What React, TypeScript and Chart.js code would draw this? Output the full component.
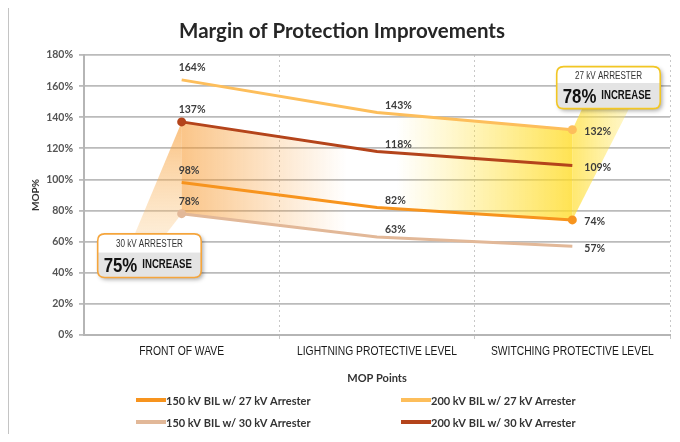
import React, { useEffect, useRef } from 'react';
import { Chart, registerables } from 'chart.js';

Chart.register(...registerables);

// ---------------- data ----------------
const categories = ['FRONT OF WAVE', 'LIGHTNING PROTECTIVE LEVEL', 'SWITCHING PROTECTIVE LEVEL'];
const seriesLabels = [
  '150 kV BIL w/ 27 kV Arrester',
  '200 kV BIL w/ 27 kV Arrester',
  '150 kV BIL w/ 30 kV Arrester',
  '200 kV BIL w/ 30 kV Arrester',
];
const bil150Arr27 = [98, 82, 74];
const bil200Arr27 = [164, 143, 132];
const bil150Arr30 = [78, 63, 57];
const bil200Arr30 = [137, 118, 109];
const yTickValues = [0, 20, 40, 60, 80, 100, 120, 140, 160, 180];
const yTickLabels = ['0%', '20%', '40%', '60%', '80%', '100%', '120%', '140%', '160%', '180%'];
const chartTitle = 'Margin of Protection Improvements';
const yTitle = 'MOP%';
const xTitle = 'MOP Points';
const callout30 = { title: '30 kV ARRESTER', pct: '75%', word: 'INCREASE' };
const callout27 = { title: '27 kV ARRESTER', pct: '78%', word: 'INCREASE' };

// ---------------- styles ----------------
const seriesColors = ['#F7941E', '#FDBE5B', '#E2B898', '#B4441B'];
const markerRadii = [
  [0, 0, 4.5],
  [0, 0, 4.5],
  [4.5, 0, 0],
  [4.5, 0, 0],
];
const SANS = 'Lato, "Open Sans", sans-serif';
const ARIAL = '"Liberation Sans", Arial, sans-serif';

function condText(ctx: any, text: string, x: number, y: number, font: string, sx: number, align: string, color: string) {
  ctx.save();
  ctx.font = font;
  ctx.fillStyle = color;
  ctx.textBaseline = 'middle';
  ctx.textAlign = align;
  ctx.translate(x, y);
  ctx.scale(sx, 1);
  ctx.fillText(text, 0, 0);
  ctx.restore();
}

function condWidth(ctx: any, text: string, font: string, sx: number) {
  ctx.save();
  ctx.font = font;
  const w = ctx.measureText(text).width * sx;
  ctx.restore();
  return w;
}

function rr(ctx: any, x: number, y: number, w: number, h: number, r: number) {
  ctx.beginPath();
  ctx.moveTo(x + r, y);
  ctx.lineTo(x + w - r, y);
  ctx.quadraticCurveTo(x + w, y, x + w, y + r);
  ctx.lineTo(x + w, y + h - r);
  ctx.quadraticCurveTo(x + w, y + h, x + w - r, y + h);
  ctx.lineTo(x + r, y + h);
  ctx.quadraticCurveTo(x, y + h, x, y + h - r);
  ctx.lineTo(x, y + r);
  ctx.quadraticCurveTo(x, y, x + r, y);
  ctx.closePath();
}

function drawCallout(ctx: any, x0: number, y0: number, x1: number, y1: number, yDiv: number, border: string, c: any) {
  const w = x1 - x0;
  const h = y1 - y0;
  ctx.save();
  ctx.shadowColor = 'rgba(0,0,0,0.35)';
  ctx.shadowBlur = 4;
  ctx.shadowOffsetX = 2;
  ctx.shadowOffsetY = 2;
  rr(ctx, x0, y0, w, h, 7);
  ctx.fillStyle = '#ffffff';
  ctx.fill();
  ctx.restore();
  ctx.save();
  rr(ctx, x0, y0, w, h, 7);
  ctx.clip();
  ctx.fillStyle = '#E4E4E4';
  ctx.fillRect(x0, yDiv, w, y1 - yDiv);
  ctx.restore();
  ctx.save();
  rr(ctx, x0, y0, w, h, 7);
  ctx.lineWidth = 1.6;
  ctx.strokeStyle = border;
  ctx.stroke();
  ctx.restore();
  condText(ctx, c.title, (x0 + x1) / 2, (y0 + yDiv) / 2 + 1, `10px ${ARIAL}`, 0.81, 'center', '#333333');
  const pf = `bold 21px ${ARIAL}`;
  const px = x0 + 6;
  const pw = condWidth(ctx, c.pct, pf, 0.8);
  const ym = (yDiv + y1) / 2 + 1;
  condText(ctx, c.pct, px, ym, pf, 0.8, 'left', '#111111');
  condText(ctx, c.word, px + pw + 5, ym - 1, `bold 12px ${ARIAL}`, 0.8, 'left', '#111111');
}

const mopPlugin = {
  id: 'mopPlugin',
  beforeDraw(chart: any) {
    const ctx = chart.ctx;
    ctx.save();
    ctx.strokeStyle = '#C4C4C4';
    ctx.lineWidth = 2;
    ctx.beginPath();
    ctx.moveTo(1, chart.height);
    ctx.lineTo(1, 1);
    ctx.lineTo(chart.width, 1);
    ctx.stroke();
    ctx.restore();
    ctx.save();
    ctx.font = `bold 20.5px ${SANS}`;
    ctx.fillStyle = '#262626';
    ctx.textAlign = 'center';
    ctx.textBaseline = 'middle';
    ctx.fillText(chartTitle, 335, 26);
    ctx.restore();
  },
  beforeDatasetsDraw(chart: any) {
    const ctx = chart.ctx;
    const xs = chart.scales.x;
    const ys = chart.scales.y;
    const d0 = chart.getDatasetMeta(0).data;
    const d1 = chart.getDatasetMeta(1).data;
    const d2 = chart.getDatasetMeta(2).data;
    const d3 = chart.getDatasetMeta(3).data;
    ctx.save();
    // left band between 200/30 and 150/30
    let g = ctx.createLinearGradient(d3[0].x, 0, d3[0].x + 165, 0);
    g.addColorStop(0, 'rgba(247,150,40,0.55)');
    g.addColorStop(1, 'rgba(247,150,40,0)');
    ctx.beginPath();
    ctx.moveTo(d3[0].x, d3[0].y);
    ctx.lineTo(d3[1].x, d3[1].y);
    ctx.lineTo(d2[1].x, d2[1].y);
    ctx.lineTo(d2[0].x, d2[0].y);
    ctx.closePath();
    ctx.fillStyle = g;
    ctx.fill();
    // left wedge toward callout
    const wy = ys.getPixelForValue(65);
    g = ctx.createLinearGradient(0, d3[0].y, 0, wy);
    g.addColorStop(0, 'rgba(247,150,40,0.6)');
    g.addColorStop(1, 'rgba(250,195,120,0.3)');
    ctx.beginPath();
    ctx.moveTo(d3[0].x, d3[0].y);
    ctx.lineTo(d2[0].x, d2[0].y);
    ctx.lineTo(xs.getPixelForValue(-0.08), wy);
    ctx.lineTo(xs.getPixelForValue(-0.24), wy);
    ctx.closePath();
    ctx.fillStyle = g;
    ctx.fill();
    // right band between 200/27 and 150/27
    g = ctx.createLinearGradient(d1[1].x + 20, 0, d1[2].x, 0);
    g.addColorStop(0, 'rgba(255,225,60,0)');
    g.addColorStop(1, 'rgba(255,220,40,0.8)');
    ctx.beginPath();
    ctx.moveTo(d1[1].x, d1[1].y);
    ctx.lineTo(d1[2].x, d1[2].y);
    ctx.lineTo(d0[2].x, d0[2].y);
    ctx.lineTo(d0[1].x, d0[1].y);
    ctx.closePath();
    ctx.fillStyle = g;
    ctx.fill();
    // right wedge toward callout
    const ry = ys.getPixelForValue(145.5);
    g = ctx.createLinearGradient(d1[2].x, 0, xs.getPixelForValue(2.3), 0);
    g.addColorStop(0, 'rgba(255,222,50,0.7)');
    g.addColorStop(1, 'rgba(255,230,90,0.3)');
    ctx.beginPath();
    ctx.moveTo(d1[2].x, d1[2].y);
    ctx.lineTo(xs.getPixelForValue(2.05), ry);
    ctx.lineTo(xs.getPixelForValue(2.29), ry);
    ctx.lineTo(d0[2].x, d0[2].y);
    ctx.closePath();
    ctx.fillStyle = g;
    ctx.fill();
    ctx.restore();
  },
  afterDatasetsDraw(chart: any) {
    const ctx = chart.ctx;
    const xs = chart.scales.x;
    const ys = chart.scales.y;
    // data labels
    const offs = [
      [-3, -12],
      [8, -7],
      [12, 2],
    ];
    ctx.save();
    ctx.font = `bold 10.5px ${SANS}`;
    ctx.fillStyle = '#3c3c3c';
    ctx.textAlign = 'left';
    ctx.textBaseline = 'middle';
    chart.data.datasets.forEach((ds: any, di: number) => {
      const meta = chart.getDatasetMeta(di);
      meta.data.forEach((pt: any, i: number) => {
        ctx.fillText(ds.data[i] + '%', pt.x + offs[i][0], pt.y + offs[i][1]);
      });
    });
    ctx.restore();
    // x category labels (condensed)
    categories.forEach((lab, i) => {
      condText(ctx, lab, xs.getPixelForValue(i), xs.top + 17, `12px ${ARIAL}`, 0.86, 'center', '#1a1a1a');
    });
    // callouts
    drawCallout(
      ctx,
      xs.getPixelForValue(-0.43),
      ys.getPixelForValue(65),
      xs.getPixelForValue(0.1),
      ys.getPixelForValue(37),
      ys.getPixelForValue(53),
      '#F5A53C',
      callout30
    );
    drawCallout(
      ctx,
      xs.getPixelForValue(1.92),
      ys.getPixelForValue(172.5),
      xs.getPixelForValue(2.45),
      ys.getPixelForValue(145.5),
      ys.getPixelForValue(162),
      '#F2C623',
      callout27
    );
  },
  afterDraw(chart: any) {
    const ctx = chart.ctx;
    // legend: two columns, two rows
    const cols = [129, 394];
    const rows = [395, 417];
    ctx.save();
    ctx.font = `bold 11px ${SANS}`;
    ctx.textBaseline = 'middle';
    ctx.textAlign = 'left';
    chart.data.datasets.forEach((ds: any, i: number) => {
      const x = cols[i % 2];
      const y = rows[Math.floor(i / 2)];
      ctx.fillStyle = ds.borderColor;
      ctx.fillRect(x, y - 2, 30, 4);
      ctx.fillStyle = '#333333';
      ctx.fillText(ds.label, x + 30, y + 1);
    });
    ctx.restore();
  },
};

const seriesData = [bil150Arr27, bil200Arr27, bil150Arr30, bil200Arr30];

export default function App() {
  const ref = useRef<HTMLCanvasElement | null>(null);
  useEffect(() => {
    if (!ref.current) return;
    const chart = new Chart(ref.current, {
      type: 'line',
      data: {
        labels: categories,
        datasets: seriesData.map((s, i) => ({
          label: seriesLabels[i],
          data: s,
          borderColor: seriesColors[i],
          backgroundColor: seriesColors[i],
          borderWidth: 3,
          pointRadius: markerRadii[i],
          pointHoverRadius: markerRadii[i],
          pointBorderWidth: 0,
          pointBackgroundColor: seriesColors[i],
          tension: 0,
          fill: false,
        })),
      },
      options: {
        responsive: false,
        animation: false,
        events: [],
        layout: { padding: { top: 50, left: 0, right: 10, bottom: 41 } },
        plugins: {
          legend: { display: false },
          title: { display: false },
          tooltip: { enabled: false },
        },
        scales: {
          x: {
            offset: true,
            grid: {
              offset: true,
              color: (c: any) => (c.index === 0 || c.index === categories.length ? 'rgba(0,0,0,0)' : '#C8C8C8'),
              lineWidth: 1,
              tickLength: 4,
            },
            border: { display: true, color: '#B5B5B5', width: 2, dash: [2, 3] },
            ticks: { color: 'rgba(0,0,0,0)', font: { size: 12 } },
            title: {
              display: true,
              text: xTitle,
              font: { family: SANS, size: 11, weight: 'bold' },
              color: '#333333',
              padding: { top: 0, bottom: 8 },
            },
            afterFit: (s: any) => {
              s.height = 58;
            },
          },
          y: {
            min: yTickValues[0],
            max: yTickValues[yTickValues.length - 1],
            ticks: {
              stepSize: yTickValues[1] - yTickValues[0],
              callback: (_v: any, i: number) => yTickLabels[i],
              color: '#555555',
              font: { family: SANS, size: 10.5, weight: 'bold' },
              padding: 6,
            },
            grid: { color: '#BBBBBB', lineWidth: 1.8, tickLength: 5 },
            border: { color: '#B5B5B5', width: 2 },
            title: {
              display: true,
              text: yTitle,
              font: { family: SANS, size: 10, weight: 'bold' },
              color: '#333333',
              padding: { top: 23, bottom: 0 },
            },
            afterFit: (s: any) => {
              s.width = 77;
            },
          },
        },
      } as any,
      plugins: [mopPlugin as any],
    });
    return () => chart.destroy();
  }, []);
  return (
    <div style={{ marginTop: -3, marginLeft: -1, width: 673, height: 429, position: 'relative' }}>
      <canvas ref={ref} width={673} height={429} style={{ display: 'block', width: 673, height: 429 }} />
    </div>
  );
}
